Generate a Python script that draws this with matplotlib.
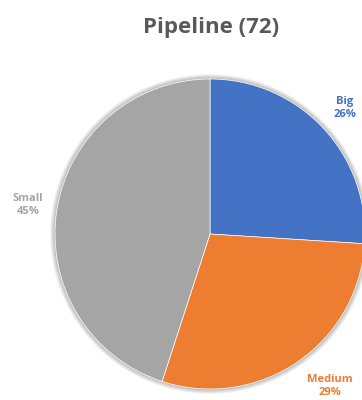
import numpy as np
import matplotlib
matplotlib.use("Agg")
import matplotlib.pyplot as plt
from matplotlib.patches import Circle

categories = ["Big", "Medium", "Small"]
shares = [26, 29, 45]
colors = ["#4472C4", "#ED7D31", "#A5A5A5"]
title = "Pipeline (72)"

plt.rcParams["font.family"] = ["Open Sans", "DejaVu Sans"]

W, H = 362, 400
fig = plt.figure(figsize=(W / 100, H / 100), dpi=100)
ax = fig.add_axes([0, 0, 1, 1])

# pie geometry in pixels
cx, cy, R = 210, 400 - 234, 155

# soft shadow around the pie
for k in range(8):
    ax.add_patch(Circle((0, 0), 1 + 0.004 * (k + 1), color="black",
                        alpha=0.035, lw=0, zorder=0))

wedges, _ = ax.pie(shares, colors=colors, startangle=90, counterclock=False,
                   radius=1, wedgeprops=dict(edgecolor="white", linewidth=0.5),
                   frame=True)
ax.set_xlim(-cx / R, (W - cx) / R)
ax.set_ylim(-cy / R, (H - cy) / R)
ax.set_aspect("equal")
ax.axis("off")

# label placement: radial distance and angular nudge (degrees)
dists = [1.19, 1.25, 1.19]
nudges = [0, 4, 0]
for w, name, val, col, d, nd in zip(wedges, categories, shares, colors,
                                    dists, nudges):
    ang = np.deg2rad((w.theta1 + w.theta2) / 2 + nd)
    ax.text(d * np.cos(ang), d * np.sin(ang), f"{name}\n{val}%",
            ha="center", va="center", color=col, fontsize=8,
            fontweight="bold", linespacing=1.25)

fig.text(211 / W, 1 - 27 / H, title, ha="center", va="center",
         fontsize=16, fontweight="bold", color="#595959")

fig.savefig("out.png", dpi=100)
